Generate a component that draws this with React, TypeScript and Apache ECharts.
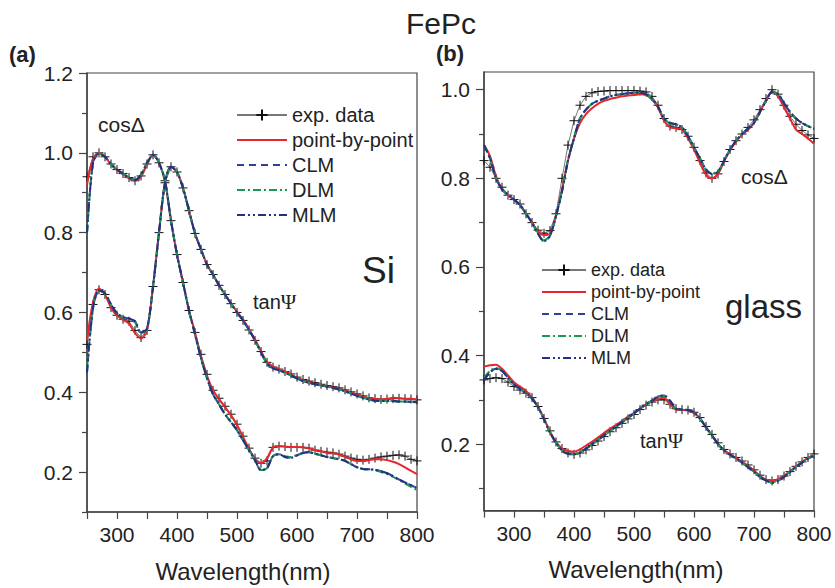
import React, { useEffect, useRef } from "react";
import * as echarts from "echarts";

const wavelengths = [
  250, 260, 270, 280, 290, 300, 310, 320, 330, 340, 350, 360, 370, 380, 390, 400, 410, 420, 430, 440,
  450, 460, 470, 480, 490, 500, 510, 520, 530, 540, 550, 560, 570, 580, 590, 600, 610, 620, 630, 640,
  650, 660, 670, 680, 690, 700, 710, 720, 730, 740, 750, 760, 770, 780, 790, 800,
];

// (a) Si substrate — cosΔ
const siCosExp = [
  0.94, 0.99, 1.0, 0.99, 0.972, 0.958, 0.948, 0.938, 0.93, 0.942, 0.972, 0.995, 0.975, 0.93, 0.83, 0.745, 0.675, 0.605, 0.55, 0.495,
  0.445, 0.405, 0.385, 0.365, 0.345, 0.32, 0.29, 0.26, 0.235, 0.222, 0.228, 0.262, 0.265, 0.264, 0.262, 0.262, 0.262, 0.26, 0.255, 0.252,
  0.25, 0.248, 0.245, 0.24, 0.235, 0.232, 0.23, 0.232, 0.235, 0.238, 0.24, 0.242, 0.243, 0.24, 0.232, 0.228,
];
const siCosPbp = [
  0.92, 0.985, 1.0, 0.99, 0.97, 0.957, 0.946, 0.936, 0.93, 0.94, 0.97, 0.995, 0.975, 0.928, 0.83, 0.745, 0.675, 0.605, 0.55, 0.49,
  0.44, 0.405, 0.383, 0.363, 0.342, 0.318, 0.288, 0.258, 0.233, 0.222, 0.235, 0.262, 0.265, 0.264, 0.263, 0.263, 0.262, 0.26, 0.255, 0.252,
  0.248, 0.247, 0.244, 0.238, 0.232, 0.228, 0.228, 0.23, 0.232, 0.232, 0.23, 0.226, 0.22, 0.212, 0.203, 0.195,
];
const siCosClm = [
  0.8, 0.975, 0.998, 0.99, 0.972, 0.958, 0.948, 0.938, 0.932, 0.945, 0.975, 0.995, 0.975, 0.93, 0.83, 0.745, 0.675, 0.605, 0.545, 0.485,
  0.435, 0.395, 0.37, 0.345, 0.325, 0.305, 0.28, 0.255, 0.23, 0.205, 0.21, 0.24, 0.245, 0.238, 0.236, 0.242, 0.248, 0.25, 0.246, 0.242,
  0.238, 0.235, 0.232, 0.228, 0.22, 0.212, 0.208, 0.207, 0.206, 0.202, 0.197, 0.19, 0.182, 0.174, 0.167, 0.16,
];
const siCosDlm = [
  0.8, 0.975, 0.998, 0.99, 0.972, 0.958, 0.948, 0.938, 0.932, 0.945, 0.975, 0.995, 0.975, 0.93, 0.83, 0.745, 0.675, 0.605, 0.545, 0.485,
  0.435, 0.395, 0.37, 0.345, 0.325, 0.305, 0.28, 0.255, 0.23, 0.205, 0.21, 0.24, 0.245, 0.24, 0.238, 0.243, 0.248, 0.25, 0.246, 0.242,
  0.238, 0.235, 0.232, 0.228, 0.22, 0.212, 0.208, 0.207, 0.205, 0.2, 0.195, 0.188, 0.18, 0.172, 0.163, 0.155,
];

// (a) Si substrate — tanΨ
const siTanExp = [
  0.52, 0.62, 0.657, 0.645, 0.612, 0.593, 0.583, 0.578, 0.555, 0.537, 0.555, 0.665, 0.8, 0.925, 0.965, 0.952, 0.912, 0.855, 0.798, 0.758,
  0.72, 0.695, 0.668, 0.645, 0.622, 0.6, 0.58, 0.556, 0.53, 0.502, 0.475, 0.463, 0.458, 0.452, 0.446, 0.438, 0.432, 0.428, 0.424, 0.42,
  0.417, 0.414, 0.411, 0.406, 0.401, 0.396, 0.391, 0.386, 0.384, 0.382, 0.383, 0.384, 0.385, 0.384, 0.383, 0.381,
];
const siTanPbp = [
  0.53, 0.625, 0.66, 0.645, 0.612, 0.592, 0.582, 0.572, 0.548, 0.535, 0.555, 0.665, 0.8, 0.925, 0.965, 0.952, 0.912, 0.855, 0.798, 0.758,
  0.72, 0.695, 0.668, 0.645, 0.623, 0.602, 0.582, 0.558, 0.532, 0.503, 0.476, 0.465, 0.458, 0.452, 0.445, 0.436, 0.43, 0.425, 0.421, 0.418,
  0.415, 0.412, 0.409, 0.404, 0.399, 0.394, 0.389, 0.385, 0.383, 0.382, 0.383, 0.386, 0.385, 0.384, 0.384, 0.382,
];
const siTanClm = [
  0.45, 0.61, 0.655, 0.648, 0.62, 0.598, 0.588, 0.585, 0.578, 0.55, 0.56, 0.665, 0.8, 0.925, 0.965, 0.952, 0.912, 0.855, 0.798, 0.758,
  0.72, 0.695, 0.668, 0.645, 0.622, 0.6, 0.58, 0.556, 0.53, 0.5, 0.472, 0.46, 0.455, 0.449, 0.442, 0.434, 0.428, 0.424, 0.42, 0.417,
  0.414, 0.411, 0.407, 0.402, 0.397, 0.391, 0.386, 0.382, 0.379, 0.378, 0.378, 0.378, 0.377, 0.377, 0.376, 0.375,
];
const siTanDlm = [
  0.46, 0.612, 0.655, 0.647, 0.62, 0.597, 0.587, 0.583, 0.575, 0.548, 0.558, 0.665, 0.8, 0.925, 0.965, 0.952, 0.912, 0.855, 0.798, 0.758,
  0.72, 0.695, 0.668, 0.645, 0.622, 0.6, 0.58, 0.556, 0.53, 0.5, 0.472, 0.46, 0.455, 0.449, 0.442, 0.434, 0.428, 0.424, 0.42, 0.417,
  0.414, 0.411, 0.407, 0.402, 0.397, 0.391, 0.386, 0.382, 0.379, 0.378, 0.378, 0.378, 0.377, 0.377, 0.376, 0.375,
];

// (b) glass substrate — cosΔ
const glCosExp = [
  0.84, 0.825, 0.8, 0.78, 0.762, 0.752, 0.742, 0.72, 0.7, 0.683, 0.676, 0.682, 0.72, 0.8, 0.875, 0.93, 0.965, 0.985, 0.993, 0.996,
  0.997, 0.998, 0.998, 0.998, 0.998, 0.998, 0.997, 0.995, 0.985, 0.965, 0.935, 0.918, 0.915, 0.91, 0.895, 0.87, 0.84, 0.812, 0.8, 0.81,
  0.838, 0.865, 0.885, 0.9, 0.915, 0.932, 0.955, 0.98, 1.0, 0.99, 0.965, 0.94, 0.922, 0.908, 0.898, 0.89,
];
const glCosPbp = [
  0.875, 0.85, 0.805, 0.775, 0.762, 0.752, 0.74, 0.72, 0.7, 0.68, 0.672, 0.675, 0.715, 0.775, 0.84, 0.89, 0.925, 0.945, 0.958, 0.968,
  0.975, 0.979, 0.982, 0.985, 0.987, 0.988, 0.99, 0.988, 0.978, 0.96, 0.93, 0.915, 0.913, 0.91, 0.89, 0.865, 0.835, 0.808, 0.8, 0.81,
  0.838, 0.863, 0.883, 0.898, 0.91, 0.925, 0.95, 0.975, 0.995, 0.985, 0.96, 0.935, 0.91, 0.9, 0.89, 0.878,
];
const glCosClm = [
  0.875, 0.845, 0.8, 0.775, 0.763, 0.752, 0.74, 0.72, 0.7, 0.675, 0.658, 0.67, 0.715, 0.77, 0.84, 0.89, 0.935, 0.955, 0.968, 0.975,
  0.98, 0.985, 0.988, 0.99, 0.992, 0.993, 0.993, 0.99, 0.98, 0.962, 0.935, 0.925, 0.922, 0.915, 0.895, 0.87, 0.845, 0.82, 0.81, 0.815,
  0.84, 0.865, 0.885, 0.9, 0.912, 0.925, 0.95, 0.975, 0.995, 0.99, 0.97, 0.95, 0.935, 0.925, 0.918, 0.912,
];
const glCosDlm = [
  0.875, 0.845, 0.8, 0.775, 0.763, 0.752, 0.74, 0.72, 0.7, 0.676, 0.66, 0.672, 0.716, 0.772, 0.842, 0.892, 0.935, 0.955, 0.968, 0.975,
  0.98, 0.985, 0.988, 0.99, 0.992, 0.993, 0.993, 0.99, 0.98, 0.962, 0.935, 0.924, 0.921, 0.914, 0.895, 0.87, 0.845, 0.82, 0.811, 0.816,
  0.84, 0.865, 0.885, 0.9, 0.912, 0.925, 0.95, 0.975, 0.995, 0.99, 0.97, 0.95, 0.935, 0.925, 0.918, 0.912,
];

// (b) glass substrate — tanΨ
const glTanExp = [
  0.345, 0.348, 0.35, 0.348, 0.34, 0.33, 0.322, 0.315, 0.305, 0.285, 0.258, 0.23, 0.205, 0.19, 0.18, 0.177, 0.18, 0.187, 0.197, 0.207,
  0.217, 0.228, 0.237, 0.247, 0.257, 0.267, 0.278, 0.288, 0.295, 0.3, 0.3, 0.29, 0.28, 0.278, 0.277, 0.272, 0.26, 0.24, 0.222, 0.203,
  0.188, 0.178, 0.17, 0.162, 0.153, 0.142, 0.13, 0.12, 0.117, 0.12, 0.128, 0.138, 0.15, 0.16, 0.17, 0.178,
];
const glTanPbp = [
  0.375, 0.378, 0.379, 0.37, 0.355, 0.34, 0.33, 0.32, 0.305, 0.285, 0.258, 0.228, 0.205, 0.19, 0.185, 0.183, 0.188, 0.197, 0.205, 0.215,
  0.225, 0.235, 0.243, 0.252, 0.262, 0.27, 0.28, 0.29, 0.297, 0.302, 0.305, 0.29, 0.278, 0.277, 0.276, 0.27, 0.258, 0.238, 0.22, 0.2,
  0.187, 0.177, 0.169, 0.16, 0.15, 0.14, 0.128, 0.12, 0.118, 0.121, 0.129, 0.139, 0.15, 0.16, 0.169, 0.176,
];
const glTanClm = [
  0.345, 0.362, 0.37, 0.365, 0.35, 0.335, 0.325, 0.315, 0.303, 0.283, 0.256, 0.226, 0.203, 0.186, 0.178, 0.177, 0.181, 0.19, 0.2, 0.21,
  0.22, 0.23, 0.24, 0.25, 0.26, 0.27, 0.28, 0.29, 0.298, 0.307, 0.31, 0.298, 0.28, 0.278, 0.277, 0.272, 0.258, 0.238, 0.22, 0.2,
  0.186, 0.176, 0.168, 0.158, 0.148, 0.138, 0.126, 0.118, 0.113, 0.117, 0.126, 0.137, 0.148, 0.158, 0.167, 0.175,
];
const glTanDlm = [
  0.35, 0.365, 0.372, 0.366, 0.35, 0.335, 0.325, 0.315, 0.303, 0.283, 0.256, 0.226, 0.203, 0.186, 0.178, 0.177, 0.181, 0.19, 0.2, 0.21,
  0.22, 0.23, 0.24, 0.25, 0.26, 0.27, 0.28, 0.29, 0.299, 0.308, 0.308, 0.296, 0.28, 0.278, 0.277, 0.272, 0.258, 0.238, 0.22, 0.2,
  0.186, 0.176, 0.168, 0.158, 0.148, 0.138, 0.126, 0.118, 0.114, 0.118, 0.127, 0.138, 0.149, 0.159, 0.168, 0.176,
];

const seriesNames = ["exp. data", "point-by-point", "CLM", "DLM", "MLM"];
const yMajorSi = [0.2, 0.4, 0.6, 0.8, 1.0, 1.2];
const yMinorSi = [0.1, 0.3, 0.5, 0.7, 0.9, 1.1];
const yMajorGlass = [0.2, 0.4, 0.6, 0.8, 1.0];
const yMinorGlass = [0.1, 0.3, 0.5, 0.7, 0.9];

const FONT = "Liberation Sans, Arial, Helvetica, sans-serif";
const TEXT = "#222";
const AXIS = "#444";
const RED = "#e8262d";
const BLUE = "#2e3f9c";
const GREEN = "#17994f";
const NAVY = "#26307f";

const pairs = (ys: number[]) => wavelengths.map((x, i) => [x, ys[i]]);

function curveSeries(idx: number, exp: number[], pbp: number[], clm: number[], dlm: number[]) {
  const base = { type: "line", xAxisIndex: idx, yAxisIndex: idx, smooth: 0.3 };
  return [
    {
      ...base,
      name: seriesNames[0],
      smooth: false,
      data: pairs(exp),
      symbol: "path://M0,5L10,5M5,0L5,10",
      symbolSize: 9,
      showSymbol: true,
      itemStyle: { color: "#111", borderColor: "#111", borderWidth: 1 },
      lineStyle: { color: "#777", width: 1 },
      z: 1,
    },
    {
      ...base,
      name: seriesNames[1],
      data: pairs(pbp),
      symbol: "none",
      itemStyle: { color: RED },
      lineStyle: { color: RED, width: 2 },
      z: 2,
    },
    {
      ...base,
      name: seriesNames[2],
      data: pairs(clm),
      symbol: "none",
      itemStyle: { color: BLUE },
      lineStyle: { color: BLUE, width: 2, type: [7, 5] },
      z: 3,
    },
    {
      ...base,
      name: seriesNames[3],
      data: pairs(dlm),
      symbol: "none",
      itemStyle: { color: GREEN },
      lineStyle: { color: GREEN, width: 2, type: [8, 3, 2, 3] },
      z: 4,
    },
    {
      ...base,
      name: seriesNames[4],
      data: pairs(clm),
      symbol: "none",
      itemStyle: { color: NAVY },
      lineStyle: { color: NAVY, width: 2, type: [8, 3, 2, 3, 2, 3] },
      z: 5,
    },
  ];
}

const xAxisCommon = {
  type: "value",
  min: 250,
  max: 800,
  interval: 50,
  axisLine: { lineStyle: { color: AXIS, width: 1.5 } },
  axisTick: { inside: false, length: 7, lineStyle: { color: AXIS, width: 1.2 } },
  axisLabel: {
    fontSize: 21,
    fontFamily: FONT,
    color: TEXT,
    margin: 12,
    formatter: (v: number) => (v % 100 === 0 ? String(v) : ""),
  },
  splitLine: { show: false },
  name: "Wavelength(nm)",
  nameLocation: "middle",
  nameGap: 47,
};

function majorY(gridIndex: number, min: number, max: number, values: number[]) {
  return {
    type: "value",
    gridIndex,
    position: "left",
    min,
    max,
    axisLine: { show: true, lineStyle: { color: AXIS, width: 1.5 } },
    axisTick: { show: true, length: 8, customValues: values, lineStyle: { color: AXIS, width: 1.2 } },
    axisLabel: {
      fontSize: 21,
      fontFamily: FONT,
      color: TEXT,
      margin: 14,
      customValues: values,
      formatter: (v: number) => v.toFixed(1),
    },
    splitLine: { show: false },
  };
}

function minorY(gridIndex: number, min: number, max: number, values: number[]) {
  return {
    type: "value",
    gridIndex,
    position: "left",
    min,
    max,
    axisLine: { show: false },
    axisTick: { show: true, length: 5, customValues: values, lineStyle: { color: AXIS, width: 1.2 } },
    axisLabel: { show: false },
    splitLine: { show: false },
  };
}

const legendItems = seriesNames.map((n, i) =>
  i === 0 ? { name: n } : { name: n, itemStyle: { opacity: 0 } }
);

export default function App() {
  const ref = useRef<HTMLDivElement>(null);
  useEffect(() => {
    document.body.style.margin = "0";
    if (!ref.current) return;
    const chart = echarts.init(ref.current, null, { renderer: "svg" });
    const legendCommon = {
      orient: "vertical",
      data: legendItems,
      itemHeight: 14,
      selectedMode: false,
    };
    chart.setOption({
      animation: false,
      backgroundColor: "#fff",
      title: {
        text: "FePc",
        left: 401,
        top: 3,
        textStyle: { fontSize: 30, fontWeight: "normal", fontFamily: FONT, color: TEXT },
      },
      grid: [
        { left: 87, top: 73, width: 330, height: 439, show: true, borderColor: AXIS, borderWidth: 1.2, backgroundColor: "transparent" },
        { left: 484, top: 72, width: 330, height: 438.6, show: true, borderColor: AXIS, borderWidth: 1.2, backgroundColor: "transparent" },
      ],
      xAxis: [
        {
          ...xAxisCommon,
          gridIndex: 0,
          nameTextStyle: { fontSize: 24, fontFamily: FONT, color: TEXT, padding: [0, 18, 0, 0] },
        },
        {
          ...xAxisCommon,
          gridIndex: 1,
          nameTextStyle: { fontSize: 24, fontFamily: FONT, color: TEXT, padding: [0, 26, 0, 0] },
        },
      ],
      yAxis: [
        majorY(0, 0.1, 1.2, yMajorSi),
        majorY(1, 0.05, 1.04, yMajorGlass),
        minorY(0, 0.1, 1.2, yMinorSi),
        minorY(1, 0.05, 1.04, yMinorGlass),
      ],
      legend: [
        {
          ...legendCommon,
          left: 231,
          top: 100,
          itemWidth: 50,
          itemGap: 5,
          textStyle: { fontSize: 20, fontFamily: FONT, color: TEXT },
        },
        {
          ...legendCommon,
          left: 536,
          top: 256,
          itemWidth: 44,
          itemGap: 4,
          textStyle: { fontSize: 18, fontFamily: FONT, color: TEXT },
        },
      ],
      graphic: [
        { type: "text", left: 9, top: 43, style: { text: "(a)", fontSize: 22, fontWeight: "bold", fontFamily: FONT, fill: TEXT } },
        { type: "text", left: 436, top: 42, style: { text: "(b)", fontSize: 22, fontWeight: "bold", fontFamily: FONT, fill: TEXT } },
        { type: "text", left: 98, top: 114, style: { text: "cosΔ", fontSize: 21, fontFamily: FONT, fill: TEXT } },
        { type: "text", left: 362, top: 252, style: { text: "Si", fontSize: 37, fontFamily: FONT, fill: TEXT } },
        {
          type: "text",
          left: 253,
          top: 291,
          style: {
            text: "tan{g|Ψ}",
            fontSize: 20,
            fontFamily: FONT,
            fill: TEXT,
            rich: { g: { fontSize: 21, fontFamily: "Liberation Serif, Times New Roman, serif", fill: TEXT } },
          },
        },
        { type: "text", left: 741, top: 166, style: { text: "cosΔ", fontSize: 21, fontFamily: FONT, fill: TEXT } },
        { type: "text", left: 725, top: 290, style: { text: "glass", fontSize: 33, fontFamily: FONT, fill: TEXT } },
        {
          type: "text",
          left: 640,
          top: 430,
          style: {
            text: "tan{g|Ψ}",
            fontSize: 20,
            fontFamily: FONT,
            fill: TEXT,
            rich: { g: { fontSize: 21, fontFamily: "Liberation Serif, Times New Roman, serif", fill: TEXT } },
          },
        },
      ],
      series: [
        ...curveSeries(0, siCosExp, siCosPbp, siCosClm, siCosDlm),
        ...curveSeries(0, siTanExp, siTanPbp, siTanClm, siTanDlm),
        ...curveSeries(1, glCosExp, glCosPbp, glCosClm, glCosDlm),
        ...curveSeries(1, glTanExp, glTanPbp, glTanClm, glTanDlm),
      ],
    });
    return () => chart.dispose();
  }, []);
  return <div ref={ref} style={{ width: 835, height: 588 }} />;
}
